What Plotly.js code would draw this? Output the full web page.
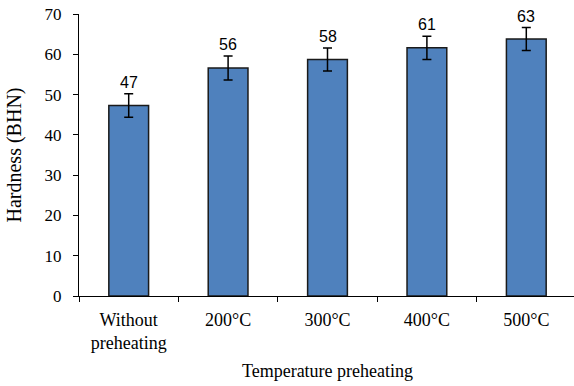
<!DOCTYPE html>
<html>
<head>
<meta charset="utf-8">
<script src="https://cdn.plot.ly/plotly-3.0.1.min.js"></script>
<style>html,body{margin:0;padding:0;overflow:hidden;background:#fff;}</style>
</head>
<body>
<div id="chart"></div>
<script>
const categories = ["Without<br>preheating", "200°C", "300°C", "400°C", "500°C"];
const hardness = [47.3, 56.6, 58.7, 61.6, 63.8];
const errors = [2.9, 3.0, 2.85, 2.9, 2.85];
const labels = ["47", "56", "58", "61", "63"];

const trace = {
  type: "bar",
  x: categories,
  y: hardness,
  width: 0.4,
  marker: {color: "#4f81bd", line: {color: "#1a1a1a", width: 1.5}},
  error_y: {type: "data", array: errors, visible: true, color: "#000", thickness: 1.5, width: 4.5},
  hoverinfo: "none"
};

const annotations = categories.map((c, i) => ({
  x: c, y: hardness[i] + errors[i], xref: "x", yref: "y",
  text: labels[i], showarrow: false, yanchor: "bottom", yshift: 1,
  font: {family: "Liberation Sans, Arial, sans-serif", size: 16, color: "#000"}
}));

const serif = "Liberation Serif, Times New Roman, serif";

const layout = {
  width: 576, height: 386,
  margin: {l: 79, r: 0, t: 14, b: 90},
  paper_bgcolor: "#fff", plot_bgcolor: "#fff",
  showlegend: false,
  font: {family: serif, size: 17, color: "#000"},
  xaxis: {
    showline: true, linecolor: "#000", linewidth: 1,
    ticks: "outside", ticklen: 5, tickcolor: "#000", tickson: "boundaries",
    ticklabelstandoff: 7,
    showgrid: false, zeroline: false,
    tickfont: {family: serif, size: 18, color: "#000"},
    title: {text: "Temperature preheating", font: {family: serif, size: 18, color: "#000"}, standoff: 12}
  },
  yaxis: {
    range: [0, 70], dtick: 10,
    showline: true, linecolor: "#000", linewidth: 1,
    ticks: "outside", ticklen: 5, tickcolor: "#000",
    ticklabelstandoff: 8,
    showgrid: false, zeroline: false,
    tickfont: {family: serif, size: 17, color: "#000"},
    title: {text: "Hardness (BHN)", font: {family: serif, size: 20, color: "#000"}, standoff: 17}
  },
  annotations: annotations
};

Plotly.newPlot("chart", [trace], layout, {displayModeBar: false, staticPlot: true});
</script>
</body>
</html>
